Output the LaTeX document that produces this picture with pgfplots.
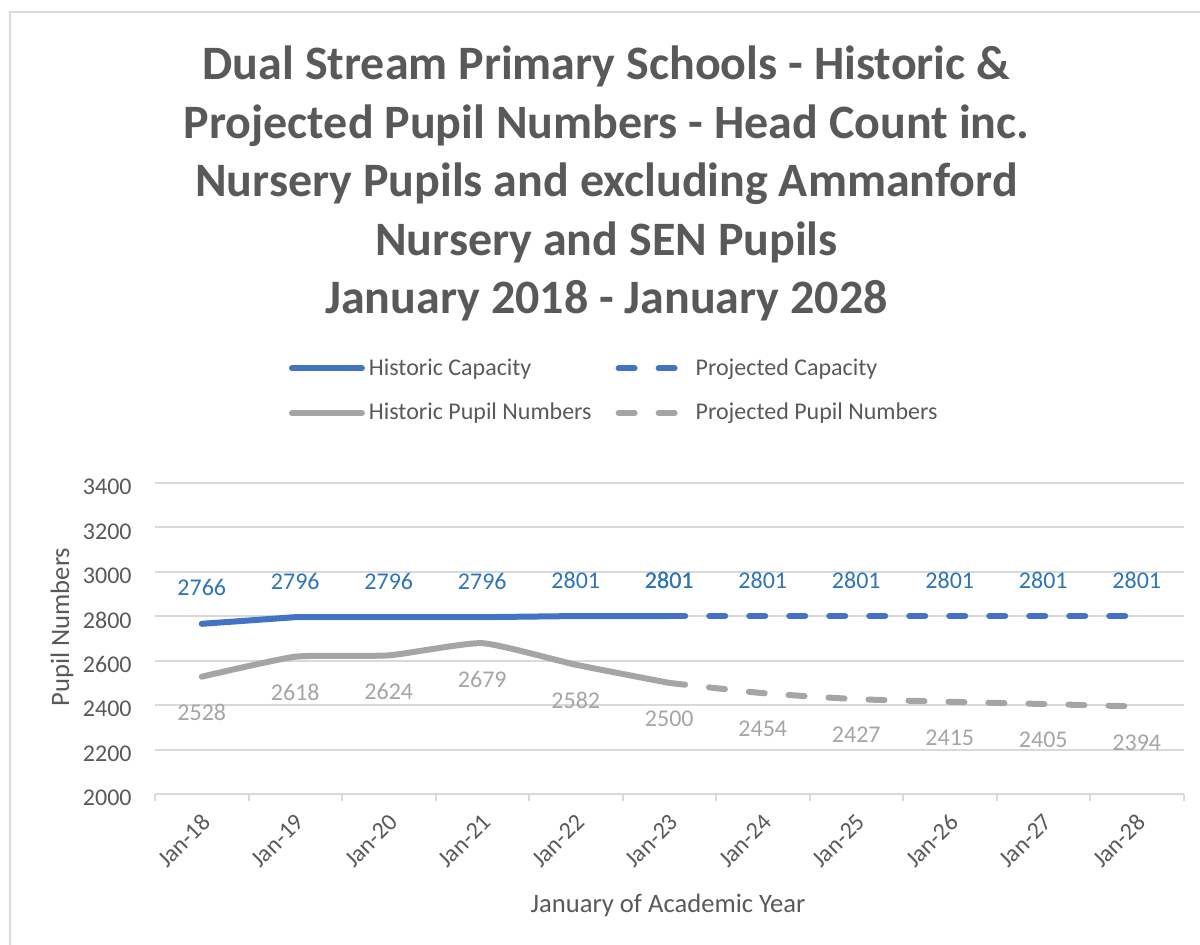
\documentclass[border=0pt]{standalone}
\usepackage{pgfplots}
\pgfplotsset{compat=1.18}
\usepackage{fontspec}
\setmainfont{Carlito}
\definecolor{capblue}{HTML}{4472C4}
\definecolor{pupgrey}{HTML}{A5A5A5}
\definecolor{lblblue}{HTML}{2E75B6}
\definecolor{txtgrey}{HTML}{595959}
\definecolor{gridgrey}{HTML}{D9D9D9}
\begin{document}
\begin{tikzpicture}
\useasboundingbox (0,0) rectangle (600pt,472.5pt);
\draw[gridgrey, line width=1pt] (5pt,0) -- (5pt,466.5pt) -- (600pt,466.5pt);
\begin{axis}[
    at={(77.5pt,75.5pt)}, anchor=south west,
    width=514.25pt, height=155.5pt, scale only axis,
    xmin=-0.5, xmax=10.5, ymin=2000, ymax=3400,
    ytick={2000,2200,...,3400},
    xtick={0,...,10},
    xticklabels={Jan-18,Jan-19,Jan-20,Jan-21,Jan-22,Jan-23,Jan-24,Jan-25,Jan-26,Jan-27,Jan-28},
    minor xtick={-0.5,0.5,...,10.5},
    major tick length=0pt, minor tick length=3.5pt, tick align=outside,
    axis x line*=bottom, axis y line*=left,
    x axis line style={draw=gridgrey, line width=1pt, -},
    y axis line style={draw=none},
    ymajorgrids, major grid style={gridgrey, line width=1pt},
    every minor tick/.style={gridgrey, line width=1pt},
    ytick style={draw=none},
    /pgf/number format/assume math mode=true,
    /pgf/number format/1000 sep={},
    ticklabel style={font=\fontsize{12}{14}\selectfont, text=txtgrey},
    xticklabel style={inner sep=0pt, xshift=2.5pt, yshift=-12pt, rotate=45, anchor=east},
    yticklabel style={inner sep=0pt, xshift=-11.5pt, yshift=-2pt, anchor=east},
    xlabel={January of Academic Year},
    ylabel={Pupil Numbers},
    every axis x label/.style={at={(axis description cs:0.4988,-0.357)}, anchor=center,
        font=\fontsize{13.3}{15}\selectfont, text=txtgrey},
    every axis y label/.style={at={(axis description cs:-0.0904,0.537)}, rotate=90, anchor=center,
        font=\fontsize{13.3}{15}\selectfont, text=txtgrey},
    title={Dual Stream Primary Schools - Historic \&\\Projected Pupil Numbers - Head Count inc.\\Nursery Pupils and excluding Ammanford\\Nursery and SEN Pupils\\January 2018 - January 2028},
    title style={at={(axis description cs:0.439,1.924)}, anchor=center, align=center,
        font=\bfseries\fontsize{24}{29.2}\selectfont, text=txtgrey},
    legend columns=2,
    legend cell align=left,
    legend style={draw=none, fill=none, at={(axis description cs:0.124,1.427)}, anchor=north west,
        font=\fontsize{12}{14}\selectfont, text=txtgrey, row sep=8.5pt,
        /tikz/every even column/.append style={column sep=10pt}},
    legend image code/.code={\draw[#1, line width=3pt, line cap=round] (0pt,0pt) -- (35pt,0pt);},
    clip=false,
    every axis plot/.append style={line width=3pt, line cap=round, line join=round, no markers},
    nodes near coords,
    point meta=explicit symbolic,
]
% historic capacity
\addplot[capblue, nodes near coords style={font=\fontsize{12}{14}\selectfont, text=lblblue, anchor=center, yshift=18pt}]
  coordinates {(0,2766)[2766] (1,2796)[2796] (2,2796)[2796] (3,2796)[2796] (4,2801)[2801] (5,2801)[2801]};
\addlegendentry{Historic Capacity}
% projected capacity
\addplot[capblue, dash pattern=on 8pt off 12pt, nodes near coords style={font=\fontsize{12}{14}\selectfont, text=lblblue, anchor=center, yshift=18pt}]
  coordinates {(5,2801)[2801] (6,2801)[2801] (7,2801)[2801] (8,2801)[2801] (9,2801)[2801] (10,2801)[2801]};
\addlegendentry{Projected Capacity}
% historic pupil numbers
\addplot[pupgrey, smooth, tension=0.3, nodes near coords style={font=\fontsize{12}{14}\selectfont, text=pupgrey, anchor=center, yshift=-18pt}]
  coordinates {(0,2528)[2528] (1,2618)[2618] (2,2624)[2624] (3,2679)[2679] (4,2582)[2582] (5,2500)[2500]};
\addlegendentry{Historic Pupil Numbers}
% projected pupil numbers
\addplot[pupgrey, smooth, tension=0.3, dash pattern=on 8pt off 12pt, nodes near coords style={font=\fontsize{12}{14}\selectfont, text=pupgrey, anchor=center, yshift=-18pt}]
  coordinates {(5,2500)[] (6,2454)[2454] (7,2427)[2427] (8,2415)[2415] (9,2405)[2405] (10,2394)[2394]};
\addlegendentry{Projected Pupil Numbers}
\end{axis}
\end{tikzpicture}
\end{document}
